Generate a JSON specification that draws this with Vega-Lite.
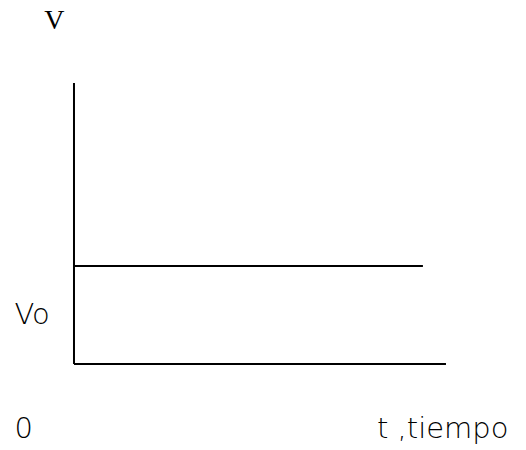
{
  "$schema": "https://vega.github.io/schema/vega-lite/v6.json",
  "width": 526,
  "height": 450,
  "padding": 0,
  "autosize": {"type": "none"},
  "background": "white",
  "config": {"view": {"stroke": null}},
  "layer": [
    {
      "data": {"values": [
        {"seg": "eje v", "t": 0, "v": 0, "t2": 0, "v2": 2.867},
        {"seg": "eje t", "t": 0, "v": 0, "t2": 10, "v2": 0},
        {"seg": "Vo", "t": 0, "v": 1, "t2": 9.38, "v2": 1}
      ]},
      "mark": {"type": "rule", "color": "black", "strokeWidth": 2},
      "encoding": {
        "x": {"field": "t", "type": "quantitative", "scale": {"domain": [-1.989, 12.151], "nice": false, "zero": false}, "axis": null},
        "x2": {"field": "t2"},
        "y": {"field": "v", "type": "quantitative", "scale": {"domain": [-0.878, 3.714], "nice": false, "zero": false}, "axis": null},
        "y2": {"field": "v2"}
      }
    },
    {
      "data": {"values": [
        {"label": "Vo", "t": -1.6, "v": 0.408},
        {"label": "0", "t": -1.6, "v": -0.755},
        {"label": "t ,tiempo", "t": 8.145, "v": -0.755}
      ]},
      "mark": {"type": "text", "align": "left", "baseline": "alphabetic", "font": "DejaVu Sans", "fontSize": 29, "fontWeight": 300, "color": "black"},
      "encoding": {
        "x": {"field": "t", "type": "quantitative"},
        "y": {"field": "v", "type": "quantitative"},
        "text": {"field": "label"}
      }
    },
    {
      "data": {"values": [
        {"label": "V", "t": -0.8, "v": 3.418}
      ]},
      "mark": {"type": "text", "align": "left", "baseline": "alphabetic", "font": "Liberation Serif", "fontSize": 28, "fontWeight": "normal", "color": "black"},
      "encoding": {
        "x": {"field": "t", "type": "quantitative"},
        "y": {"field": "v", "type": "quantitative"},
        "text": {"field": "label"}
      }
    }
  ]
}
